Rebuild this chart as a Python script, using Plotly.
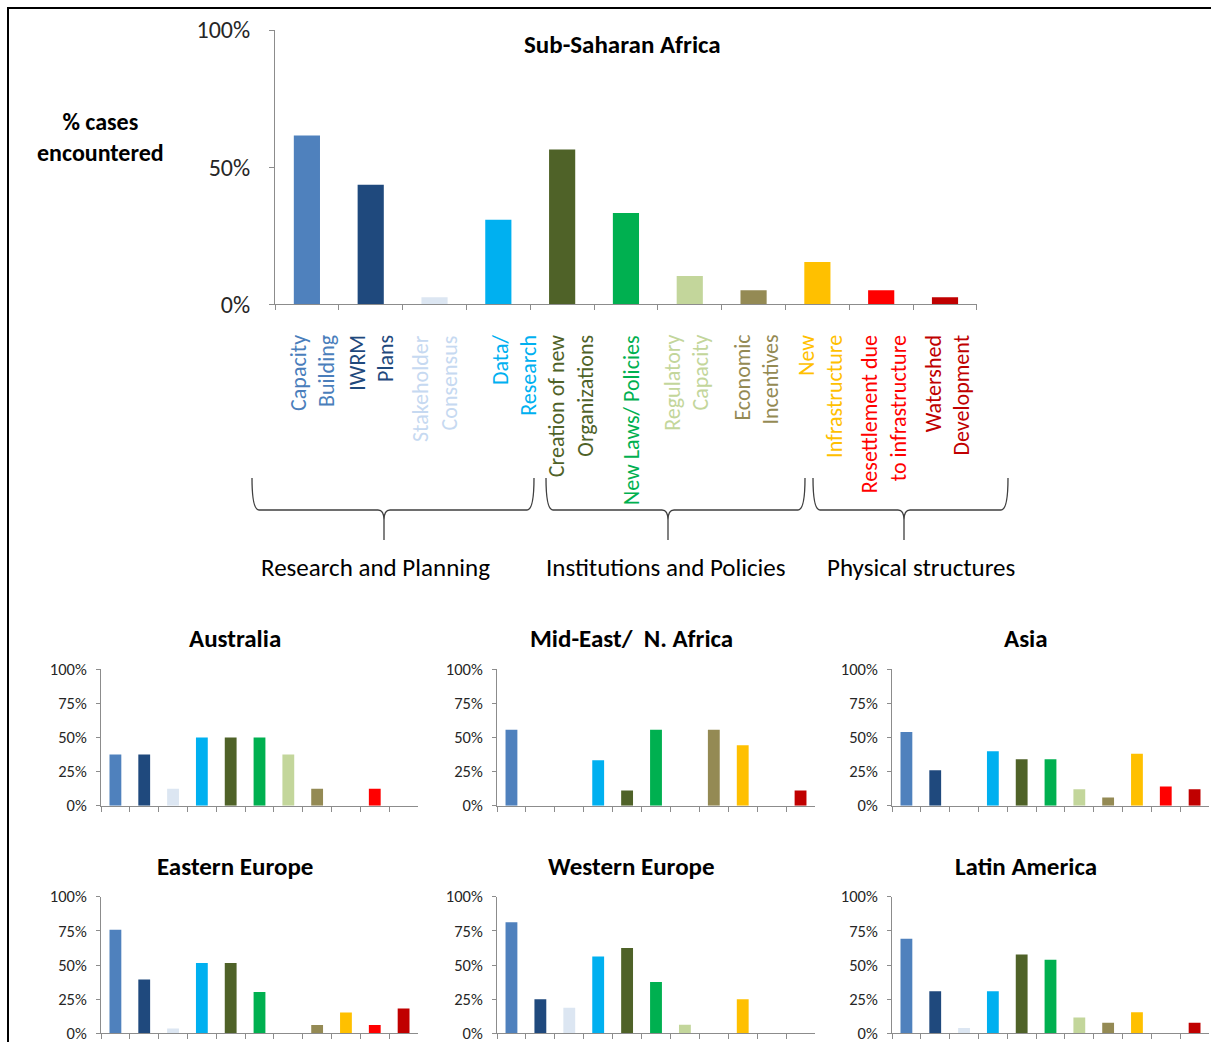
import plotly.graph_objects as go

# ---------------- data ----------------
categories = ["Capacity Building", "IWRM Plans", "Stakeholder Consensus", "Data/ Research",
              "Creation of new Organizations", "New Laws/ Policies", "Regulatory Capacity",
              "Economic Incentives", "New Infrastructure", "Resettlement due to infrastructure",
              "Watershed Development"]
label_lines = ["Capacity<br>Building", "IWRM<br>Plans", "Stakeholder<br>Consensus", "Data/<br>Research",
               "Creation of new<br>Organizations", "New Laws/ Policies", "Regulatory<br>Capacity",
               "Economic<br>Incentives", "New<br>Infrastructure", "Resettlement due<br>to infrastructure",
               "Watershed<br>Development"]
bar_colors = ["#4F81BD", "#1F497D", "#DCE6F2", "#00B0F0", "#4F6228", "#00B050",
              "#C3D69B", "#948A54", "#FFC000", "#FF0000", "#C00000"]
label_colors = ["#4A7EBB", "#1F497D", "#C6D9F1", "#00B0F0", "#4F6228", "#00B050",
                "#C3D69B", "#948A54", "#FFC000", "#FF0000", "#C00000"]

sub_saharan = [61.5, 43.6, 2.6, 30.8, 56.4, 33.3, 10.3, 5.1, 15.4, 5.1, 2.6]
australia = [37.5, 37.5, 12.5, 50, 50, 50, 37.5, 12.5, 0, 12.5, 0]
mid_east = [55.6, 0, 0, 33.3, 11.1, 55.6, 0, 55.6, 44.4, 0, 11.1]
asia = [54, 26, 0, 40, 34, 34, 12, 6, 38, 14, 12]
eastern_europe = [75.8, 39.4, 3.5, 51.5, 51.5, 30.3, 0, 6.1, 15.2, 6.1, 18.2]
western_europe = [81.25, 25, 18.75, 56.25, 62.5, 37.5, 6.25, 0, 25, 0, 0]
latin_america = [69.2, 30.8, 3.8, 30.8, 57.7, 53.8, 11.5, 7.7, 15.4, 0, 7.7]

small_titles = ["Australia", "Mid-East/  N. Africa", "Asia",
                "Eastern Europe", "Western Europe", "Latin America"]
small_series = [australia, mid_east, asia, eastern_europe, western_europe, latin_america]

top_ticks = [0, 50, 100]
small_ticks = [0, 25, 50, 75, 100]

groups = ["Research and Planning", "Institutions and Policies", "Physical structures"]

# ---------------- layout helpers ----------------
W, H = 1211, 1042
FONT = "Carlito, Calibri, Lato, sans-serif"
AXIS_COL = "#8C8C8C"
TXT = "#262626"


def px(x):
    return x / W


def py(y):
    return 1 - y / H


def pct(vals):
    return [f"{v}%" for v in vals]


fig = go.Figure()
layout = dict(width=W, height=H,
              margin=dict(l=0, r=0, t=0, b=0, pad=0, autoexpand=False),
              plot_bgcolor="white", paper_bgcolor="white", showlegend=False,
              bargap=0.59, font=dict(family=FONT, color=TXT))

# top chart
fig.add_trace(go.Bar(x=categories, y=sub_saharan, marker=dict(color=bar_colors, line_width=0),
                     xaxis="x", yaxis="y"))
layout["xaxis"] = dict(domain=[px(275), px(977)], anchor="y", showticklabels=False,
                       showline=True, linecolor=AXIS_COL, linewidth=1, ticks="outside",
                       tickson="boundaries", ticklen=5, tickcolor=AXIS_COL, showgrid=False,
                       automargin=False, fixedrange=True,
                       categoryorder="array", categoryarray=categories)
layout["yaxis"] = dict(domain=[py(304.3), py(30)], anchor="x", range=[0, 100],
                       tickmode="array", tickvals=top_ticks, ticktext=pct(top_ticks),
                       showline=True, linecolor=AXIS_COL, automargin=False, fixedrange=True,
                       linewidth=1, ticks="outside", ticklen=5, tickcolor=AXIS_COL,
                       showgrid=False, zeroline=False, tickfont=dict(size=24, color=TXT),
                       ticklabelstandoff=14, ticklabeloverflow="allow")

# small charts
col_x = [(101, 418), (497, 815), (892, 1209)]
row_y = [(805.7, 669.3), (1033.3, 896.7)]
title_x = [235, 631, 1026]
title_y = [638, 866]
annotations = []
for i, (title, vals) in enumerate(zip(small_titles, small_series)):
    r, c = divmod(i, 3)
    n = i + 2
    xa, ya = f"x{n}", f"y{n}"
    fig.add_trace(go.Bar(x=categories, y=vals, marker=dict(color=bar_colors, line_width=0),
                         xaxis=xa, yaxis=ya))
    layout[f"xaxis{n}"] = dict(domain=[px(col_x[c][0]), px(col_x[c][1])], anchor=ya,
                               showticklabels=False, showline=True, linecolor=AXIS_COL,
                               linewidth=1, ticks="outside", tickson="boundaries", ticklen=5,
                               tickcolor=AXIS_COL, showgrid=False, automargin=False,
                               fixedrange=True,
                               categoryorder="array", categoryarray=categories)
    layout[f"yaxis{n}"] = dict(domain=[py(row_y[r][0]), py(row_y[r][1])], anchor=xa,
                               range=[0, 100], tickmode="array", tickvals=small_ticks,
                               ticktext=pct(small_ticks), automargin=False, fixedrange=True,
                               showline=True, linecolor=AXIS_COL, linewidth=1, ticks="outside",
                               ticklen=4, tickcolor=AXIS_COL, showgrid=False, zeroline=False,
                               tickfont=dict(size=16.5, color=TXT), ticklabelstandoff=6,
                               ticklabeloverflow="allow")
    annotations.append(dict(x=px(title_x[c]), y=py(title_y[r]), xref="paper", yref="paper",
                            text=f"<b>{title}</b>", showarrow=False, xanchor="center",
                            yanchor="middle", font=dict(size=25, color="#000000")))

# top title and y label
annotations.append(dict(x=px(622), y=py(45), xref="paper", yref="paper",
                        text="<b>Sub-Saharan Africa</b>", showarrow=False,
                        xanchor="center", yanchor="middle",
                        font=dict(size=25, color="#000000")))
annotations.append(dict(x=px(100), y=py(137), xref="paper", yref="paper",
                        text="<b>% cases<br>encountered</b>", showarrow=False,
                        xanchor="center", yanchor="middle",
                        font=dict(size=24, color="#000000")))

# rotated category labels
label_xshift = [6, 1, 0, 16, 9, 5, -3, 3, 3, 3, 2]
for cat, txt, col, dx in zip(categories, label_lines, label_colors, label_xshift):
    annotations.append(dict(x=cat, y=py(333), xref="x", yref="paper", text=txt,
                            textangle=-90, showarrow=False, xanchor="center", yanchor="top",
                            align="right", xshift=dx, font=dict(size=22, color=col)))

# group labels and braces
group_centers = [375, 666, 921]
brace_spans = [(252, 384, 534), (546, 668, 805), (813, 904, 1008)]
shapes = []
for g, gc, (x1, xc, x2) in zip(groups, group_centers, brace_spans):
    annotations.append(dict(x=px(gc), y=py(567), xref="paper", yref="paper", text=g,
                            showarrow=False, xanchor="center", yanchor="middle",
                            font=dict(size=25, color="#000000")))
    yt, yh, yb = 478, 510, 540
    pts = (f"M {px(x1)},{py(yt)} Q {px(x1)},{py(yh)} {px(x1 + 7)},{py(yh)} "
           f"L {px(xc - 6)},{py(yh)} Q {px(xc)},{py(yh)} {px(xc)},{py(yh + 10)} "
           f"L {px(xc)},{py(yb)} M {px(xc)},{py(yh + 10)} Q {px(xc)},{py(yh)} {px(xc + 6)},{py(yh)} "
           f"L {px(x2 - 7)},{py(yh)} Q {px(x2)},{py(yh)} {px(x2)},{py(yt)}")
    shapes.append(dict(type="path", path=pts, xref="paper", yref="paper",
                       line=dict(color="#3F3F3F", width=1.3)))

# outer frame (left and top edges visible)
shapes.append(dict(type="line", xref="paper", yref="paper", x0=px(8), x1=px(8),
                   y0=py(7), y1=py(1060), line=dict(color="#000000", width=2)))
shapes.append(dict(type="line", xref="paper", yref="paper", x0=px(7), x1=px(1220),
                   y0=py(8), y1=py(8), line=dict(color="#000000", width=2)))

layout["annotations"] = annotations
layout["shapes"] = shapes
fig.update_layout(**layout)

fig.write_html("out.html", config={"displayModeBar": False},
               post_script="document.body.style.margin='0px';document.body.style.overflow='hidden';")
